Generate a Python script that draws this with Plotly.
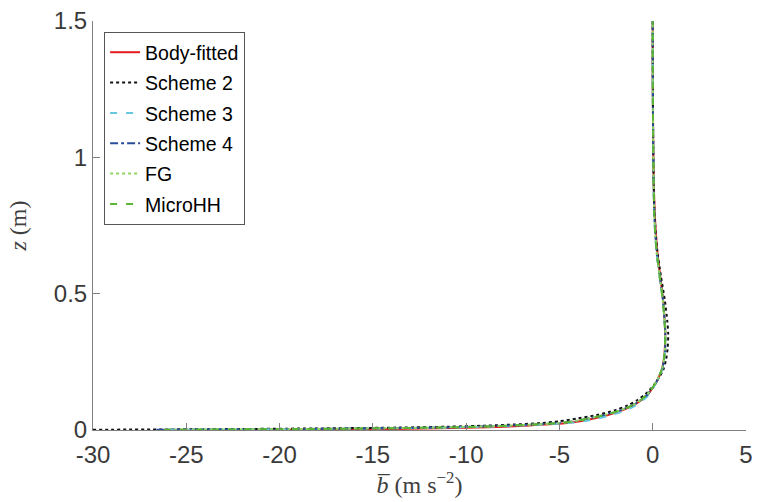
import plotly.graph_objects as go

# Height (m)
z = [0.001, 0.003, 0.006, 0.009, 0.012, 0.016, 0.020, 0.025, 0.032, 0.043, 0.055,
     0.073, 0.090, 0.110, 0.130, 0.146, 0.165, 0.183, 0.220, 0.260, 0.300, 0.350,
     0.400, 0.480, 0.560, 0.660, 0.780, 0.900, 1.030, 1.200, 1.350, 1.500]

# Mean buoyancy profiles (m s^-2)
body_fitted = [-19.5, -14.5, -11.5, -9.5, -8.0, -6.8, -5.8, -4.7, -3.9, -3.1, -2.4,
               -1.6, -1.05, -0.60, -0.27, -0.09, 0.10, 0.25, 0.48, 0.60, 0.65, 0.67,
               0.64, 0.55, 0.41, 0.24, 0.12, 0.06, 0.03, 0.01, 0.0, 0.0]
scheme2 = [-30.0, -23.5, -17.5, -13.5, -11.0, -9.0, -7.5, -6.1, -5.0, -4.0, -3.0,
           -2.0, -1.35, -0.82, -0.42, -0.18, 0.06, 0.25, 0.56, 0.72, 0.80, 0.83,
           0.78, 0.64, 0.45, 0.24, 0.11, 0.05, 0.03, 0.01, 0.0, 0.0]
scheme3 = [-26.0, -19.0, -14.0, -10.8, -8.9, -7.2, -5.9, -4.6, -3.7, -2.9, -2.2,
           -1.4, -0.90, -0.50, -0.20, -0.05, 0.12, 0.27, 0.50, 0.62, 0.66, 0.67,
           0.63, 0.53, 0.38, 0.20, 0.09, 0.05, 0.03, 0.01, 0.0, 0.0]
scheme4 = [-26.6, -20.2, -14.9, -11.6, -9.6, -7.9, -6.5, -5.1, -4.2, -3.4, -2.6,
           -1.7, -1.10, -0.63, -0.28, -0.10, 0.10, 0.25, 0.49, 0.62, 0.67, 0.68,
           0.64, 0.54, 0.38, 0.20, 0.09, 0.05, 0.03, 0.01, 0.0, 0.0]
fg = [-26.0, -19.8, -14.6, -11.4, -9.4, -7.7, -6.4, -5.1, -4.2, -3.4, -2.6,
      -1.7, -1.10, -0.64, -0.30, -0.11, 0.09, 0.24, 0.48, 0.61, 0.66, 0.68,
      0.64, 0.54, 0.38, 0.20, 0.09, 0.05, 0.03, 0.01, 0.0, 0.0]
microhh = [-26.2, -20.0, -14.8, -11.5, -9.5, -7.8, -6.5, -5.1, -4.2, -3.4, -2.6,
           -1.7, -1.10, -0.65, -0.30, -0.12, 0.08, 0.23, 0.47, 0.60, 0.65, 0.67,
           0.63, 0.53, 0.38, 0.20, 0.09, 0.05, 0.03, 0.01, 0.0, 0.0]

x_ticks = [-30, -25, -20, -15, -10, -5, 0, 5]
x_tick_labels = ["-30", "-25", "-20", "-15", "-10", "-5", "0", "5"]
y_ticks = [0, 0.5, 1, 1.5]
y_tick_labels = ["0", "0.5", "1", "1.5"]

series = [
    ("Body-fitted", body_fitted, "#e41a1c", "solid"),
    ("Scheme 2", scheme2, "#111111", "dot"),
    ("Scheme 3", scheme3, "#66c8e0", "7px,9px"),
    ("Scheme 4", scheme4, "#2b4c9b", "8px,3px,3px,3px"),
    ("FG", fg, "#8ed45f", "dot"),
    ("MicroHH", microhh, "#5ab535", "7px,9px"),
]

fig = go.Figure()
for name, b, color, dash in series:
    fig.add_trace(go.Scatter(
        x=b, y=z, mode="lines", name=name, legendgroup=name,
        line=dict(color=color, width=2, dash=dash, shape="spline", smoothing=0.8),
    ))

axis_color = "#808080"
tick_font = dict(family="Liberation Sans, Arial, sans-serif", size=24, color="#3a3a3a")
title_font = dict(family="Liberation Serif, DejaVu Serif, serif", size=24, color="#404040")

fig.update_layout(
    width=760, height=502,
    margin=dict(l=93, r=7, t=20, b=72),
    paper_bgcolor="white", plot_bgcolor="white",
    showlegend=True,
    legend=dict(
        x=0.017, y=0.973, xanchor="left", yanchor="top",
        bgcolor="white", bordercolor="#555555", borderwidth=1,
        font=dict(family="Liberation Sans, Arial, sans-serif", size=19.5, color="#000000"),
        tracegroupgap=2, itemwidth=30,
    ),
    xaxis=dict(
        range=[-30, 5], tickvals=x_ticks, ticktext=x_tick_labels,
        ticks="inside", ticklen=7, tickcolor=axis_color,
        showline=True, linecolor=axis_color, linewidth=1,
        showgrid=False, zeroline=False, tickfont=tick_font, ticklabelstandoff=3,
        title=dict(text="<i>b\u0305</i> (m s<sup>\u22122</sup>)", font=title_font, standoff=9),
    ),
    yaxis=dict(
        range=[0, 1.5], tickvals=y_ticks, ticktext=y_tick_labels,
        ticks="inside", ticklen=7, tickcolor=axis_color,
        showline=True, linecolor=axis_color, linewidth=1,
        showgrid=False, zeroline=False, tickfont=tick_font,
        title=dict(text="<i>z</i> (m)", font=title_font, standoff=20),
    ),
)

fig.write_html("out.html")
